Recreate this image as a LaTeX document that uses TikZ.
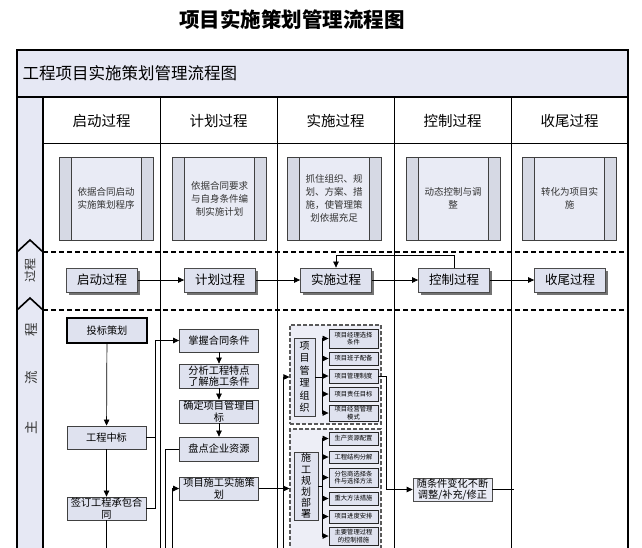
\documentclass[tikz,border=0pt]{standalone}
\usepackage{fontspec}
\setmainfont{Noto Sans CJK SC}
\usetikzlibrary{arrows.meta,shadows}
\definecolor{lav}{HTML}{E6E8F4}
\definecolor{boxf}{HTML}{DFE2EF}
\definecolor{descf}{HTML}{E9EBF5}
\definecolor{sidef}{HTML}{D6D9E4}
\definecolor{grpf}{HTML}{EDEEF6}
\newcommand\mydesc[3]{%
  \fill[sidef] (#2-47,157) rectangle (#2+47,240);
  \fill[descf] (#2-35,157) rectangle (#2+35,240);
  \draw[line width=0.8pt, black!75] (#2-47,157) rectangle (#2+47,240);
  \draw[line width=0.8pt, black!75] (#2-35,157) -- (#2-35,240) (#2+35,157) -- (#2+35,240);
  \node[desctext] (#1) at (#2,198.5) {#3};}
\begin{document}
\begin{tikzpicture}[x=1pt,y=-1pt,
  desctext/.style={align=center, inner sep=0pt, text=black!80, font=\fontsize{9.5}{13}\selectfont},
  colhead/.style={font=\fontsize{14.5}{16}\selectfont},
  procbox/.style={draw=black!70, fill=boxf, line width=0.8pt, minimum width=71pt, minimum height=24pt, inner sep=1pt,
    font=\fontsize{12.5}{14}\selectfont, drop shadow={shadow xshift=2.5pt, shadow yshift=-2.5pt, fill=black!55, opacity=1}},
  flowbox/.style={draw=black!75, fill=boxf, line width=0.8pt, minimum width=79pt, minimum height=23pt, inner sep=0.5pt,
    align=center, font=\fontsize{10.2}{11.5}\selectfont},
  grp/.style={draw=black!65, fill=grpf, dash pattern=on 4pt off 2pt, line width=1.1pt, inner sep=0pt},
  inbox/.style={draw=black!75, fill=boxf, line width=0.8pt, inner sep=0pt, align=center, font=\fontsize{10}{12.5}\selectfont},
  subbox/.style={draw=black!85, fill=boxf, line width=0.9pt, minimum width=49pt, inner sep=0pt, align=center,
    font=\fontsize{6.3}{7.3}\selectfont},
  arr/.style={-{Triangle[length=6pt,width=5.5pt]}, line width=0.7pt},
  ln/.style={line width=0.7pt},
  lanetxt/.style={rotate=90, text=black!80}]
\useasboundingbox (0,0) rectangle (642,547);
\clip (0,0) rectangle (642,547);
\fill[white] (0,0) rectangle (642,547);
% title
\node[font=\fontsize{20.5}{22}\selectfont\bfseries] (title) at (292,20) {项目实施策划管理流程图};
% frame
\fill[lav] (17,50) rectangle (628,97);
\fill[lav] (17,97) rectangle (43,560);
\draw[line width=1.5pt] (17,50) rectangle (628,560);
\draw[line width=1.5pt] (17,97) -- (628,97);
\draw[line width=1.2pt] (43,97) -- (43,560);
\draw[line width=1pt] (43,143) -- (628,143);
\foreach \x in {160,277,394,511} \draw[line width=1pt] (\x,97) -- (\x,560);
\node[anchor=west, font=\fontsize{16.5}{18}\selectfont] (hdr) at (19,73) {工程项目实施策划管理流程图};
% column headers
\node[colhead] (h1) at (101.5,121) {启动过程};
\node[colhead] (h2) at (218.5,121) {计划过程};
\node[colhead] (h3) at (335.5,121) {实施过程};
\node[colhead] (h4) at (452.5,121) {控制过程};
\node[colhead] (h5) at (569.5,121) {收尾过程};
% description boxes
\mydesc{d1}{106}{依据合同启动\\实施策划程序}
\mydesc{d2}{219.5}{依据合同要求\\与自身条件编\\制实施计划}
\mydesc{d3}{334}{抓住组织、规\\划、方案、措\\施，使管理策\\划依据充足}
\mydesc{d4}{453}{动态控制与调\\整}
\mydesc{d5}{569.5}{转化为项目实\\施}
% lane separators
\draw[line width=2.2pt, dash pattern=on 5pt off 3pt] (43,252) -- (628,252);
\draw[line width=2.2pt, dash pattern=on 5pt off 3pt] (43,310) -- (628,310);
\draw[line width=1.6pt, line join=miter] (17,252) -- (30,240) -- (43,252);
\draw[line width=1.6pt, line join=miter] (17,310) -- (30,298) -- (43,310);
\node[lanetxt, font=\fontsize{12}{13}\selectfont] (lane1) at (30,270) {过程};
\node[lanetxt, font=\fontsize{13.5}{14}\selectfont] (lz1) at (31,330) {程};
\node[lanetxt, font=\fontsize{13.5}{14}\selectfont] (lz2) at (31,378) {流};
\node[lanetxt, font=\fontsize{13.5}{14}\selectfont] (lz3) at (31,428) {主};
% process row
\node[procbox] (p1) at (102,280) {启动过程};
\node[procbox] (p2) at (220,280) {计划过程};
\node[procbox] (p3) at (336,280) {实施过程};
\node[procbox] (p4) at (454,280) {控制过程};
\node[procbox] (p5) at (570,280) {收尾过程};
\draw[arr] (p1) -- (p2);
\draw[arr] (p2) -- (p3);
\draw[arr] (p3) -- (p4);
\draw[arr] (p4) -- (p5);
\draw[arr] (p4.north) -- ++(0,-12) -| (p3.north);
% main flow, column 1
\node[flowbox, minimum width=80pt, minimum height=25pt, line width=2.4pt, draw=black] (a1) at (107,330.5) {投标策划};
\node[flowbox] (a2) at (106.5,437.5) {工程中标};
\node[flowbox] (a3) at (106.5,508.5) {签订工程承包合\\同};
\coordinate (bot1) at (106.5,550);
\draw[arr] (a1) -- (a2);
\draw[arr] (a2) -- (a3);
\draw[ln] (a3) -- (bot1);
% column 2
\node[flowbox] (b1) at (219,340.5) {掌握合同条件};
\node[flowbox, minimum height=24pt] (b2) at (219,376) {分析工程特点\\了解施工条件};
\node[flowbox] (b3) at (219,411.5) {确定项目管理目\\标};
\node[flowbox, minimum height=24pt] (b4) at (219,449) {盘点企业资源};
\node[flowbox] (b5) at (219,488.5) {项目施工实施策\\划};
\draw[arr] (b1) -- (b2);
\draw[arr] (b2) -- (b3);
\draw[arr] (b3) -- (b4);
\coordinate (j1) at (155,0);
\draw[ln] (a2.east) -- (j1 |- a2.east);
\draw[arr] (a3.east) -| (j1 |- b1.west) -- (b1.west);
\coordinate (bot2) at (165,550);
\draw[ln] (b4.west) -| (bot2);
\coordinate (bot3) at (172,550);
\draw[arr] (bot3) |- (b5.west);
% column 3 groups
\node[grp, minimum width=91pt, minimum height=99pt] (g1) at (335.5,374.5) {};
\node[grp, minimum width=91pt, minimum height=131pt] (g2) at (335.5,494.5) {};
\node[inbox, minimum width=21pt, minimum height=78pt] (m1) at (304.5,377) {项\\目\\管\\理\\组\\织};
\node[inbox, minimum width=24pt, minimum height=68pt, font=\fontsize{10}{11.2}\selectfont] (m2) at (306,486) {施\\工\\规\\划\\部\\署};
\node[subbox, minimum height=19pt] (s11) at (353.5,338.5) {项目经理选择\\条件};
\node[subbox, minimum height=13pt] (s12) at (353.5,358.5) {项目班子配备};
\node[subbox, minimum height=14pt] (s13) at (353.5,376) {项目管理制度};
\node[subbox, minimum height=14pt] (s14) at (353.5,394) {项目责任目标};
\node[subbox, minimum height=16pt] (s15) at (353.5,413) {项目经营管理\\模式};
\node[subbox, minimum height=13pt] (s21) at (353.5,438.5) {生产资源配置};
\node[subbox, minimum height=12pt] (s22) at (353.5,457) {工程结构分解};
\node[subbox, minimum height=19pt] (s23) at (353.5,477.5) {分包商选择条\\件与选择方法};
\node[subbox, minimum height=13pt] (s24) at (353.5,498.5) {重大方法措施};
\node[subbox, minimum height=13pt] (s25) at (353.5,516.5) {项目进度安排};
\node[subbox, minimum height=18pt] (s26) at (353.5,536) {主要管理过程\\的控制措施};
\coordinate (bus) at (322,0);
\draw[ln] (m1.east) -- (bus |- m1.east);
\draw[ln] (bus |- s11.west) -- (bus |- s15.west);
\foreach \s in {s11,s12,s13,s14,s15} \draw[arr] (bus |- \s.west) -- (\s.west);
\draw[ln] (m2.east) -- (bus |- m2.east);
\draw[ln] (bus |- s21.west) -- (bus |- s26.west);
\foreach \s in {s21,s22,s23,s24,s25,s26} \draw[arr] (bus |- \s.west) -- (\s.west);
\draw[arr] (b5.east) -- (b5.east -| g2.west);
\coordinate (bot4) at (283,550);
\draw[arr] (bot4) |- (g1.west |- m1.east);
% column 4
\node[flowbox, fill=descf, draw=black!70, line width=0.7pt] (r1) at (452.5,489.5) {随条件变化不断\\调整/补充/修正};
\coordinate (c386) at (386,0);
\draw[arr] (s13.east) -| (c386 |- r1.west) -- (r1.west);
\coordinate (r1end) at (514,489.5);
\draw[ln] (r1.east) -- (r1end);
\end{tikzpicture}
\end{document}
